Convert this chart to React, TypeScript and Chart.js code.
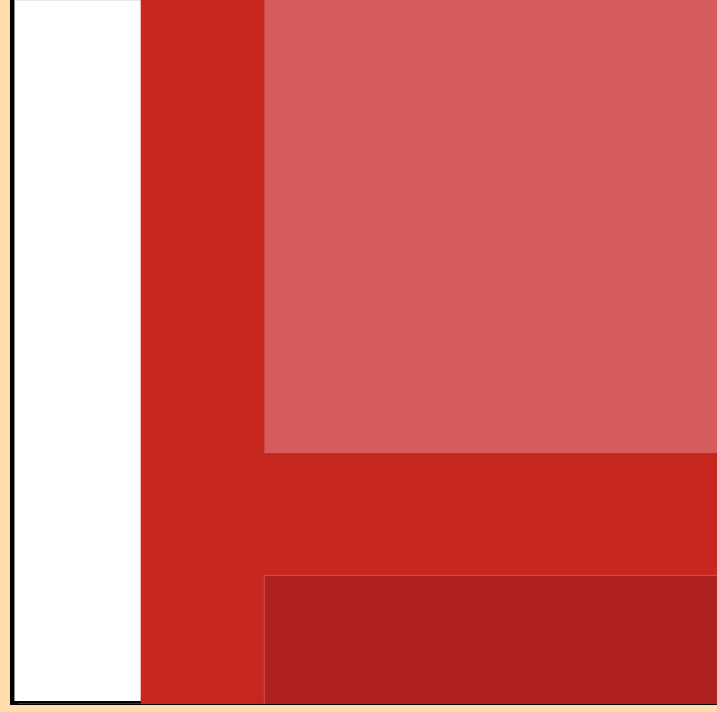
import React, { useEffect, useRef } from 'react';
import { Chart, registerables } from 'chart.js';

Chart.register(...registerables);

// Categories (column slots) and stacked series values
const categories = ['', 'A', 'B', 'C', 'D', 'E'];
const lowSeries = [0, 0, 18.3, 18.3, 18.3, 18.3];
const midSeries = [0, 100, 17.3, 17.3, 17.3, 17.3];
const highSeries = [0, 0, 64.4, 64.4, 64.4, 64.4];

export default function App() {
  const ref = useRef<HTMLCanvasElement>(null);

  useEffect(() => {
    if (!ref.current) return;
    const chart = new Chart(ref.current, {
      type: 'bar',
      data: {
        labels: categories,
        datasets: [
          {
            label: 'Low',
            data: lowSeries,
            backgroundColor: '#AF2020',
            borderColor: '#D65C5C',
            borderSkipped: false,
            borderWidth: (ctx: any) =>
              ctx.dataIndex === 2
                ? { top: 1, left: 1, right: 0, bottom: 0 }
                : { top: 1, left: 0, right: 0, bottom: 0 },
          },
          {
            label: 'Mid',
            data: midSeries,
            backgroundColor: '#C62820',
            borderWidth: 0,
          },
          {
            label: 'High',
            data: highSeries,
            backgroundColor: '#D65C5C',
            borderWidth: 0,
          },
        ],
      },
      options: {
        responsive: false,
        animation: false,
        layout: { padding: { left: 4, top: 0, right: 0, bottom: 0 } },
        plugins: { legend: { display: false }, tooltip: { enabled: false } },
        datasets: { bar: { categoryPercentage: 1, barPercentage: 1 } },
        scales: {
          x: { stacked: true, display: false },
          y: { stacked: true, display: false, min: 0, max: 100 },
        },
      },
    } as any);
    return () => chart.destroy();
  }, []);

  return (
    <div
      style={{
        position: 'fixed',
        left: 0,
        top: 0,
        width: 717,
        height: 712,
        background: '#FFDDAA',
        overflow: 'hidden',
      }}
    >
      <div
        style={{
          position: 'absolute',
          left: 10,
          top: 0,
          width: 742,
          height: 701,
          background: '#FFFFFF',
          borderLeft: '4px solid #000',
          borderBottom: '4px solid #000',
          boxShadow: 'inset 1px 0 0 #8a8a8a, inset 0 1px 0 #e8e8e8',
        }}
      />
      <canvas
        ref={ref}
        width={742}
        height={704}
        style={{ display: 'block', position: 'absolute', left: 14, top: 0 }}
      />
    </div>
  );
}
